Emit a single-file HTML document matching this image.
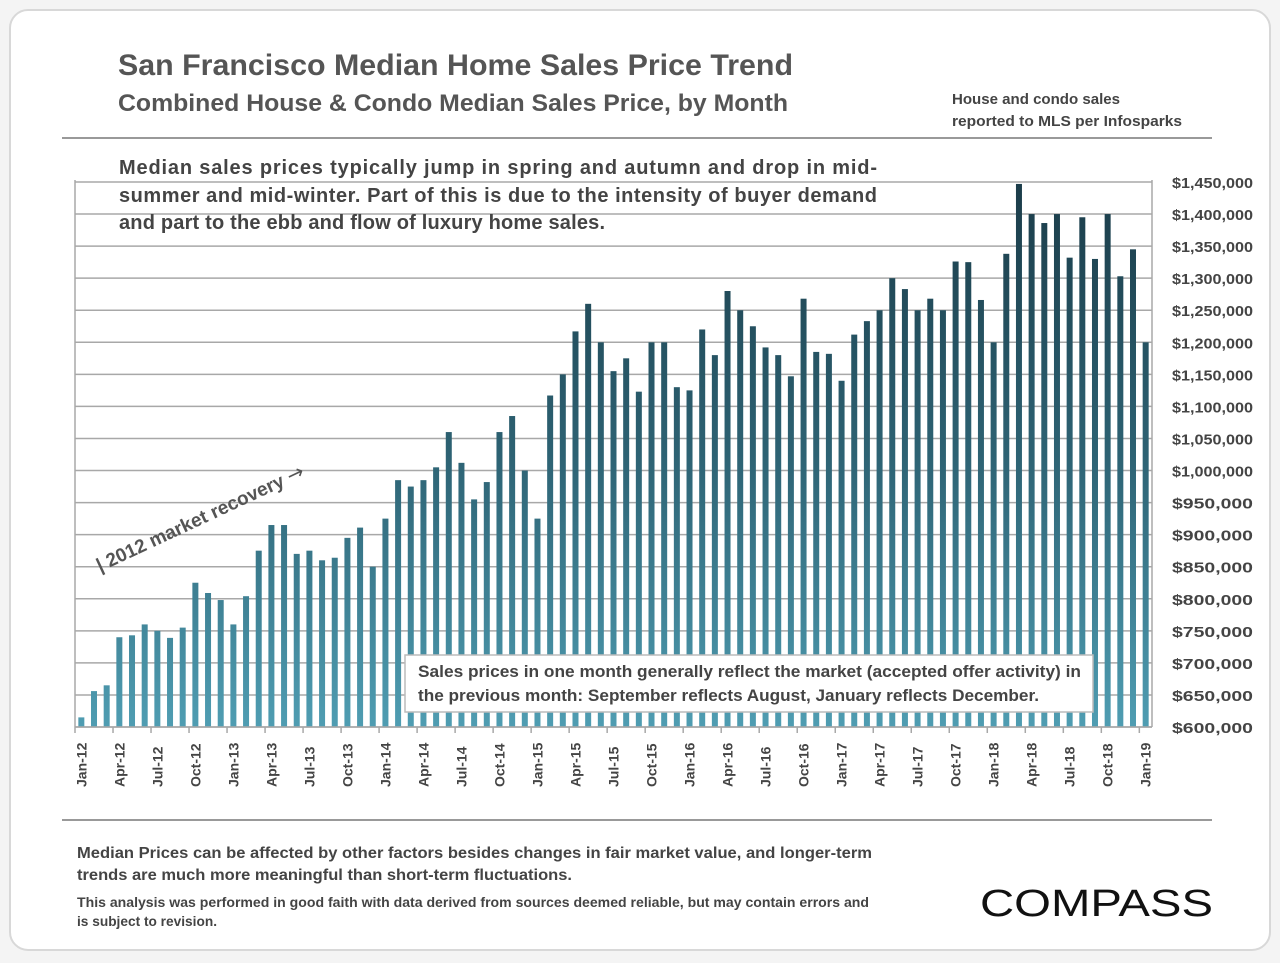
<!DOCTYPE html>
<html><head><meta charset="utf-8"><style>
html,body{margin:0;padding:0;background:#f4f4f4;}
svg{display:block;font-family:"Liberation Sans",sans-serif;}
</style></head><body>
<svg id="chart" width="1280" height="963" viewBox="0 0 1280 963" xmlns="http://www.w3.org/2000/svg">
<defs>
<linearGradient id="barGrad" gradientUnits="userSpaceOnUse" x1="0" y1="182" x2="0" y2="727">
<stop offset="0" stop-color="#1b3c49"/><stop offset="0.5" stop-color="#2d6273"/><stop offset="1" stop-color="#4f9db2"/>
</linearGradient>
</defs>
<rect x="10" y="10" width="1260" height="940" rx="18" fill="#fff" stroke="#d8d8d8" stroke-width="2"/>
<text x="118" y="75" font-size="30" font-weight="bold" fill="#555" textLength="675" lengthAdjust="spacingAndGlyphs">San Francisco Median Home Sales Price Trend</text>
<text x="118" y="111" font-size="24" font-weight="bold" fill="#555" textLength="670" lengthAdjust="spacingAndGlyphs">Combined House &amp; Condo Median Sales Price, by Month</text>
<text font-size="15" fill="#444" font-weight="bold"><tspan x="952" y="104" textLength="168" lengthAdjust="spacingAndGlyphs">House and condo sales</tspan><tspan x="952" y="126" textLength="230" lengthAdjust="spacingAndGlyphs">reported to MLS per Infosparks</tspan></text>
<line x1="62" y1="138" x2="1212" y2="138" stroke="#999" stroke-width="2"/>
<g id="plot"></g>
<text font-size="20" font-weight="bold" fill="#444">
<tspan x="119" y="174" textLength="758" lengthAdjust="spacing">Median sales prices typically jump in spring and autumn and drop in mid-</tspan>
<tspan x="119" y="202" textLength="758" lengthAdjust="spacing">summer and mid-winter. Part of this is due to the intensity of buyer demand</tspan>
<tspan x="119" y="229" textLength="486" lengthAdjust="spacing">and part to the ebb and flow of luxury home sales.</tspan>
</text>
<text transform="translate(100,572) rotate(-25)" font-size="19" font-weight="bold" fill="#555">| 2012 market recovery <tspan font-family="DejaVu Sans" font-weight="normal" font-size="20">→</tspan></text>
<rect x="405" y="655" width="688" height="57" fill="#fff" stroke="#bbb" stroke-width="1.5"/>
<text font-size="17" font-weight="bold" fill="#444">
<tspan x="418" y="677" textLength="663" lengthAdjust="spacingAndGlyphs">Sales prices in one month generally reflect the market (accepted offer activity) in</tspan>
<tspan x="418" y="701" textLength="621" lengthAdjust="spacingAndGlyphs">the previous month:  September reflects August, January reflects December.</tspan>
</text>
<line x1="62" y1="820" x2="1212" y2="820" stroke="#999" stroke-width="2"/>
<text font-size="16" font-weight="bold" fill="#444">
<tspan x="77" y="858" textLength="795" lengthAdjust="spacingAndGlyphs">Median Prices can be affected by other factors besides changes in fair market value, and longer-term</tspan>
<tspan x="77" y="880" textLength="495" lengthAdjust="spacingAndGlyphs">trends are much more meaningful than short-term fluctuations.</tspan>
</text>
<text font-size="13.5" font-weight="bold" fill="#444">
<tspan x="77" y="907" textLength="792" lengthAdjust="spacingAndGlyphs">This analysis was performed in good faith with data derived from sources deemed reliable, but may contain errors and</tspan>
<tspan x="77" y="926" textLength="140" lengthAdjust="spacingAndGlyphs">is subject to revision.</tspan>
</text>
<text x="980" y="916" font-size="38" fill="#111" textLength="233" lengthAdjust="spacingAndGlyphs">COMPASS</text>
</svg>
<script>
const categories = ["Jan-12","Feb-12","Mar-12","Apr-12","May-12","Jun-12","Jul-12","Aug-12","Sep-12","Oct-12","Nov-12","Dec-12",
"Jan-13","Feb-13","Mar-13","Apr-13","May-13","Jun-13","Jul-13","Aug-13","Sep-13","Oct-13","Nov-13","Dec-13",
"Jan-14","Feb-14","Mar-14","Apr-14","May-14","Jun-14","Jul-14","Aug-14","Sep-14","Oct-14","Nov-14","Dec-14",
"Jan-15","Feb-15","Mar-15","Apr-15","May-15","Jun-15","Jul-15","Aug-15","Sep-15","Oct-15","Nov-15","Dec-15",
"Jan-16","Feb-16","Mar-16","Apr-16","May-16","Jun-16","Jul-16","Aug-16","Sep-16","Oct-16","Nov-16","Dec-16",
"Jan-17","Feb-17","Mar-17","Apr-17","May-17","Jun-17","Jul-17","Aug-17","Sep-17","Oct-17","Nov-17","Dec-17",
"Jan-18","Feb-18","Mar-18","Apr-18","May-18","Jun-18","Jul-18","Aug-18","Sep-18","Oct-18","Nov-18","Dec-18","Jan-19"];
const medianPrice = [615000,656000,665000,740000,743000,760000,750000,739000,755000,825000,809000,798000,
760000,804000,875000,915000,915000,870000,875000,860000,864000,895000,911000,850000,
925000,985000,975000,985000,1005000,1060000,1012000,955000,982000,1060000,1085000,1000000,
925000,1117000,1150000,1217000,1260000,1200000,1155000,1175000,1123000,1200000,1200000,1130000,
1125000,1220000,1180000,1280000,1250000,1225000,1192000,1180000,1147000,1268000,1185000,1182000,
1140000,1212000,1233000,1250000,1300000,1283000,1250000,1268000,1250000,1326000,1325000,1266000,
1200000,1338000,1447000,1400000,1386000,1400000,1332000,1395000,1330000,1400000,1303000,1345000,1200000];
const yTicks = [600000,650000,700000,750000,800000,850000,900000,950000,1000000,1050000,1100000,1150000,1200000,1250000,1300000,1350000,1400000,1450000];
const xTickLabels = ["Jan-12","Apr-12","Jul-12","Oct-12","Jan-13","Apr-13","Jul-13","Oct-13","Jan-14","Apr-14","Jul-14","Oct-14","Jan-15","Apr-15","Jul-15","Oct-15","Jan-16","Apr-16","Jul-16","Oct-16","Jan-17","Apr-17","Jul-17","Oct-17","Jan-18","Apr-18","Jul-18","Oct-18","Jan-19"];

const NS="http://www.w3.org/2000/svg";
const plot=document.getElementById('plot');
const L=75,R=1152,T=182,B=727,yMin=600000,yMax=1450000;
const step=(R-L)/categories.length;
function y(v){return B-(v-yMin)/(yMax-yMin)*(B-T);}
function x(i){return L+step*(i+0.5);}
function mk(tag,attrs){const e=document.createElementNS(NS,tag);for(const k in attrs)e.setAttribute(k,attrs[k]);plot.appendChild(e);return e;}

yTicks.forEach(t=>{
  const g=mk('line',{x1:L,x2:R,y1:y(t),y2:y(t),stroke:'#a8a8a8','stroke-width':1.5});
  
  
  const lb=mk('text',{x:1253,y:y(t)+6,'text-anchor':'end','font-size':15,'font-weight':'bold',fill:'#444',textLength:81,lengthAdjust:'spacingAndGlyphs'});
  lb.textContent='$'+t.toLocaleString('en-US');
  
  
});
const fl=mk('line',{x1:L,x2:L,y1:T-2,y2:B,stroke:'#a8a8a8','stroke-width':1.5});


const fr=mk('line',{x1:R,x2:R,y1:T-2,y2:B,stroke:'#a8a8a8','stroke-width':1.5});



medianPrice.forEach((v,i)=>{
  const r=mk('rect',{x:x(i)-3,y:y(v),width:6,height:B-y(v),fill:'url(#barGrad)'});
  
  
});
const ax=mk('line',{x1:L,x2:R,y1:B,y2:B,stroke:'#a8a8a8','stroke-width':1.5});



xTickLabels.forEach(lab=>{
  const i=categories.indexOf(lab);
  const tk=mk('line',{x1:L+step*i,x2:L+step*i,y1:B,y2:B+6,stroke:'#a8a8a8','stroke-width':1.5});
  
  
  const tx=mk('text',{transform:'translate('+(x(i)+5)+',787) rotate(-90)','font-size':14,'font-weight':'bold',fill:'#444'});
  tx.textContent=lab;
  
  
});
</script>
</body></html>
